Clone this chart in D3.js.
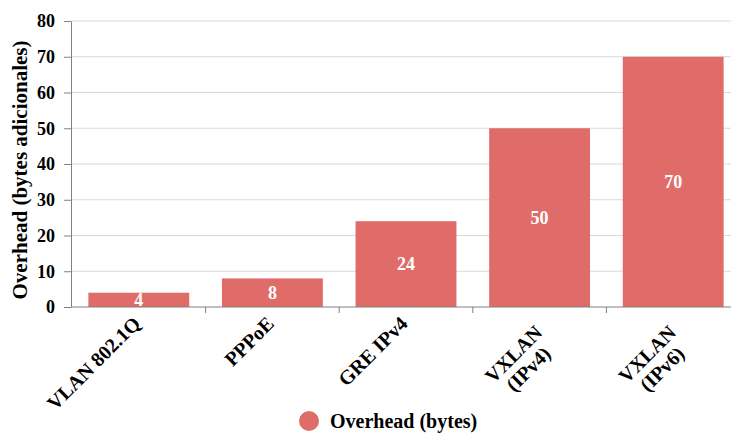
<!DOCTYPE html>
<html>
<head>
<meta charset="utf-8">
<script src="https://cdn.jsdelivr.net/npm/d3@7"></script>
<style>
  body { margin: 0; background: #fff; }
  svg text { font-family: "Liberation Serif", "Times New Roman", serif; font-weight: bold; }
</style>
</head>
<body>
<div id="chart"></div>
<script>
// data
const categories = ['VLAN 802.1Q', 'PPPoE', 'GRE IPv4', 'VXLAN (IPv4)', 'VXLAN (IPv6)']
const labelLines = [['VLAN 802.1Q'], ['PPPoE'], ['GRE IPv4'], ['VXLAN', '(IPv4)'], ['VXLAN', '(IPv6)']]
const overhead = [4, 8, 24, 50, 70]
const yTicks = [0, 10, 20, 30, 40, 50, 60, 70, 80]
const seriesName = 'Overhead (bytes)'
const yTitle = 'Overhead (bytes adicionales)'

const W = 731, H = 434
const color = '#e06c6a'
const serif = '"Liberation Serif", "Times New Roman", serif'

const svg = d3.select('#chart').append('svg')
  .attr('width', W)
  .attr('height', H)
  .attr('font-family', serif)
  .attr('font-weight', 'bold')

const x = d3.scaleBand()
  .domain(categories)
  .range([72, 740])
  .paddingInner(0.245)
  .paddingOuter(0.1225)

const y = d3.scaleLinear()
  .domain([0, 80])
  .range([307, 21])

// gridlines
svg.append('g')
  .selectAll('line')
  .data(yTicks.filter(d => d > 0))
  .enter().append('line')
  .attr('x1', 71).attr('x2', W)
  .attr('y1', d => y(d)).attr('y2', d => y(d))
  .attr('stroke', '#d9d9d9')
  .attr('stroke-width', 1)

// bars
svg.append('g')
  .selectAll('rect')
  .data(overhead)
  .enter().append('rect')
  .attr('x', (d, i) => x(categories[i]))
  .attr('y', d => y(d))
  .attr('width', x.bandwidth())
  .attr('height', d => y(0) - y(d))
  .attr('fill', color)

// value labels
svg.append('g')
  .selectAll('text')
  .data(overhead)
  .enter().append('text')
  .attr('x', (d, i) => x(categories[i]) + x.bandwidth() / 2)
  .attr('y', d => (y(d) + y(0)) / 2)
  .attr('dy', '0.35em')
  .attr('text-anchor', 'middle')
  .attr('fill', '#fff')
  .attr('font-family', serif)
  .attr('font-size', 18)
  .text(d => d)

// y axis
const yAxis = svg.append('g')
  .attr('transform', 'translate(71,0)')
  .call(d3.axisLeft(y).tickValues(yTicks).tickSize(7).tickSizeOuter(0).tickPadding(9))
yAxis.attr('font-family', serif).attr('font-size', 18)
yAxis.select('.domain').attr('stroke', '#808080')
yAxis.selectAll('.tick line').attr('stroke', '#808080')
yAxis.selectAll('.tick text')
  .attr('font-family', serif)
  .attr('font-weight', 'bold')
  .attr('fill', '#000')

// x axis
const bounds = categories.map(c => x(c) - x.paddingInner() * x.step() / 2)
svg.append('line')
  .attr('x1', 71).attr('x2', W)
  .attr('y1', y(0)).attr('y2', y(0))
  .attr('stroke', '#808080')
svg.append('g')
  .selectAll('line')
  .data(bounds.slice(1))
  .enter().append('line')
  .attr('x1', d => d).attr('x2', d => d)
  .attr('y1', y(0)).attr('y2', y(0) + 6)
  .attr('stroke', '#808080')

// x labels, rotated; longest line ends at the anchor, lines share a centre
const xl = svg.append('g')
  .selectAll('text')
  .data(categories)
  .enter().append('text')
  .attr('text-anchor', 'middle')
  .attr('font-family', serif)
  .attr('font-size', 20)
  .attr('fill', '#000')
xl.each(function (c, i) {
  const lines = labelLines[i]
  const t = d3.select(this)
  const spans = t.selectAll('tspan')
    .data(lines)
    .enter().append('tspan')
    .attr('dy', (l, j) => j === 0 ? '0.7em' : '1.05em')
    .text(l => l)
  const maxW = d3.max(spans.nodes(), n => n.getComputedTextLength())
  spans.attr('x', -maxW / 2)
  const cx = x(c) + x.bandwidth() / 2 + (lines.length > 1 ? -6 : -7)
  const cy = y(0) + (lines.length > 1 ? 17 : 8)
  t.attr('transform', `translate(${cx},${cy}) rotate(-45)`)
})

// y title
svg.append('text')
  .attr('transform', `translate(20,${(y(0) + y(80)) / 2 + 6}) rotate(-90)`)
  .attr('text-anchor', 'middle')
  .attr('dy', '0.35em')
  .attr('font-family', serif)
  .attr('font-size', 21)
  .attr('fill', '#000')
  .text(yTitle)

// legend
const lg = svg.append('g').attr('transform', 'translate(309,421)')
lg.append('circle').attr('r', 10).attr('fill', color)
lg.append('text')
  .attr('x', 21)
  .attr('dy', '0.35em')
  .attr('font-family', serif)
  .attr('font-size', 20)
  .attr('fill', '#000')
  .text(seriesName)
</script>
</body>
</html>
